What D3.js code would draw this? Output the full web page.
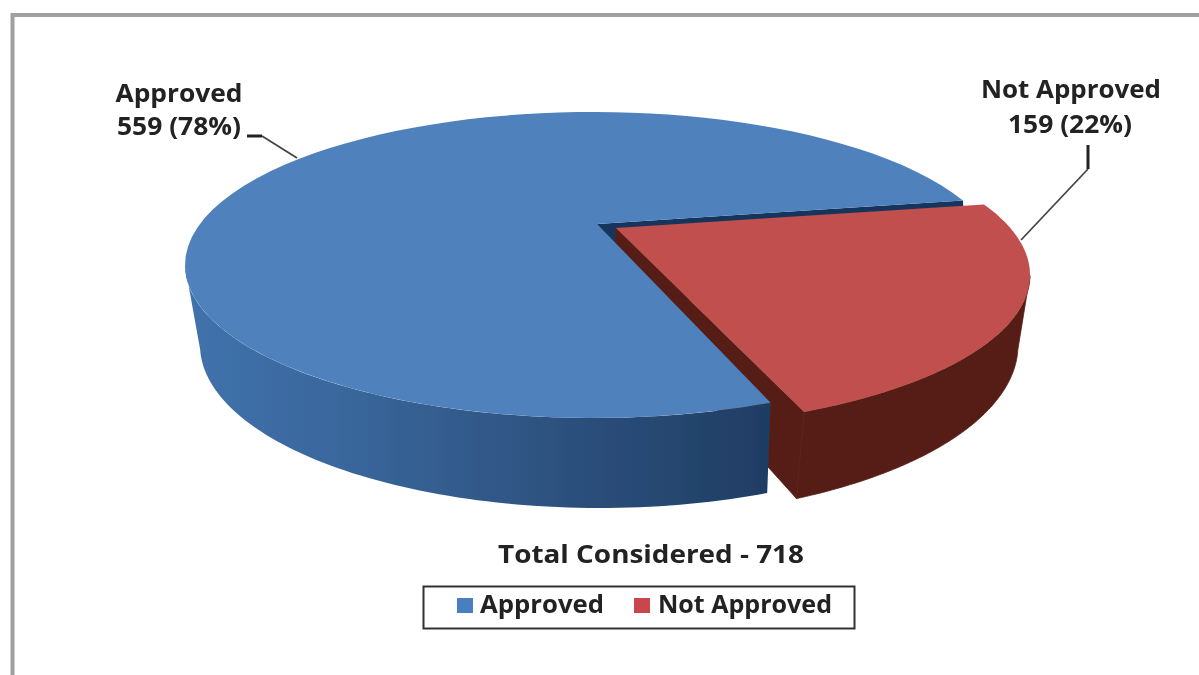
<!DOCTYPE html>
<html>
<head>
<meta charset="utf-8">
<script src="https://cdn.jsdelivr.net/npm/d3@7"></script>
<style>
	html, body { margin: 0; padding: 0; background: #fff; }
	svg { display: block; }
	text { font-family: "Open Sans", sans-serif; font-weight: 700; fill: #222; }
</style>
</head>
<body>
<div id="chart"></div>
<script>
"use strict"

const categories = ["Approved", "Not Approved"];
const counts = [559, 159];
const percents = ["78%", "22%"];
const totalLabel = "Total Considered - 718";
const topColors = ["#4f81bd", "#c0504d"];

const width = 1199, height = 675;

let svg = d3.select("#chart").append("svg")
	.attr("width", width)
	.attr("height", height);

let defs = svg.append("defs");
defs.append("filter").attr("id", "soft")
	.append("feGaussianBlur").attr("stdDeviation", 0.7);

let sideBlue = defs.append("linearGradient").attr("id", "sideBlue")
	.attr("gradientUnits", "userSpaceOnUse")
	.attr("x1", 190).attr("x2", 770).attr("y1", 0).attr("y2", 0);
[["0%", "#4072ab"], ["30%", "#38659a"], ["60%", "#2e5381"], ["100%", "#1f3d63"]].forEach(s => {
	sideBlue.append("stop").attr("offset", s[0]).attr("stop-color", s[1]);
});

let root = svg.append("g").attr("filter", "url(#soft)");

// frame of the screenshot
root.append("path")
	.attr("d", "M12.5,680V15H1210")
	.attr("fill", "none")
	.attr("stroke", "#a0a0a0")
	.attr("stroke-width", 4);

// the pie layout gives the angles, rotated so the small slice sits on the right
let pie = d3.pie().sort(null)
	.startAngle(160 * Math.PI / 180)
	.endAngle(520 * Math.PI / 180);
let slices = pie(counts);

// ellipses of the tilted disc. h,k place the apex relative to the centre (perspective)
const blueTop = {cx: 593, cy: 265, rx: 408, ry: 153, h: 0.01, k: 0.268};
const blueLow = {cx: 600, cy: 345, rx: 400, ry: 163, h: 0, k: 0.24};
const redTop = {cx: 622, cy: 275, rx: 408, ry: 153, h: -0.015, k: 0.307};
const redLow = {cx: 615, cy: 345, rx: 403, ry: 172, h: 0, k: 0.28};

function rim(e, a) {
	let th = a - Math.PI / 2, c = Math.cos(th), s = Math.sin(th);
	let b = e.h * c - e.k * s;
	let t = -b + Math.sqrt(b * b + 1 - e.h * e.h - e.k * e.k);
	return [e.cx + e.rx * (e.h + t * c), e.cy + e.ry * (t * s - e.k)];
}
function apex(e) {
	return [e.cx + e.rx * e.h, e.cy - e.ry * e.k];
}
function arcPts(e, a0, a1) {
	let n = 80;
	return d3.range(n + 1).map(i => rim(e, a0 + (a1 - a0) * i / n));
}

let line = d3.line();
function face(pts, fill) {
	return root.append("path")
		.attr("d", line(pts) + "Z")
		.attr("fill", fill);
}

let blue = slices[0], red = slices[1];
const rightExt = 107 * Math.PI / 180 + 2 * Math.PI;
const leftExt = 255 * Math.PI / 180;
const redStart = red.startAngle;
// the exploded slice is drawn a degree narrower on screen than the gap it left
const redEnd = red.endAngle - 1 * Math.PI / 180;

// cut face of the blue slice, seen through the gap
face([apex(blueTop), rim(blueTop, blue.endAngle), rim(blueLow, blue.endAngle), apex(blueLow)], "#17365d");

// red cut face and outer wall
face([apex(redTop), rim(redTop, redEnd), rim(redLow, redEnd), apex(redLow)], "#571f18")
	.attr("stroke", "#571f18").attr("stroke-width", 0.8);
face(arcPts(redTop, rightExt, redEnd).concat(arcPts(redLow, redEnd, rightExt)), "#571f18")
	.attr("stroke", "#571f18").attr("stroke-width", 0.8);

// blue wall
face(arcPts(blueTop, blue.startAngle, leftExt).concat(arcPts(blueLow, leftExt, blue.startAngle)), "url(#sideBlue)");

// top faces
face([apex(blueTop)].concat(arcPts(blueTop, blue.startAngle, blue.endAngle)), topColors[0]);
face([apex(redTop)].concat(arcPts(redTop, redStart, redEnd)), topColors[1]);

// leader lines
function leader(pts, w, color) {
	root.append("path")
		.attr("d", line(pts))
		.attr("fill", "none")
		.attr("stroke", color)
		.attr("stroke-width", w);
}
leader([[262, 136], [297, 158]], 1.8, "#444");
leader([[247, 136], [262, 136]], 3, "#222");
leader([[1088, 169], [1021, 240]], 1.8, "#444");
leader([[1088, 145], [1088, 169]], 3, "#222");

// text
function label(txt, x, y, size, len) {
	root.append("text")
		.attr("x", x).attr("y", y)
		.attr("text-anchor", "middle")
		.attr("font-size", size)
		.attr("textLength", len)
		.attr("lengthAdjust", "spacingAndGlyphs")
		.text(txt);
}
label(categories[0], 179, 102, 25, 127);
label(`${counts[0]} (${percents[0]})`, 179, 135, 25, 124);
label(categories[1], 1071, 98, 25, 180);
label(`${counts[1]} (${percents[1]})`, 1070, 133, 25, 124);
label(totalLabel, 651, 563, 25, 306);

// legend
let legend = root.append("g");
legend.append("rect")
	.attr("x", 423.5).attr("y", 586.5)
	.attr("width", 431).attr("height", 42)
	.attr("fill", "#fff")
	.attr("stroke", "#333")
	.attr("stroke-width", 2);
let swatchX = d3.scaleOrdinal().domain(categories).range([457, 634]);
let legendText = d3.scaleOrdinal().domain(categories).range([[542, 124], [745, 174]]);
categories.forEach((c, i) => {
	legend.append("rect")
		.attr("x", swatchX(c)).attr("y", 598)
		.attr("width", 16).attr("height", 15)
		.attr("fill", i == 0 ? "#4a7fc1" : "#c9474c");
	legend.append("text")
		.attr("x", legendText(c)[0]).attr("y", 613)
		.attr("text-anchor", "middle")
		.attr("font-size", 25)
		.attr("textLength", legendText(c)[1])
		.attr("lengthAdjust", "spacingAndGlyphs")
		.text(c);
});
</script>
</body>
</html>
